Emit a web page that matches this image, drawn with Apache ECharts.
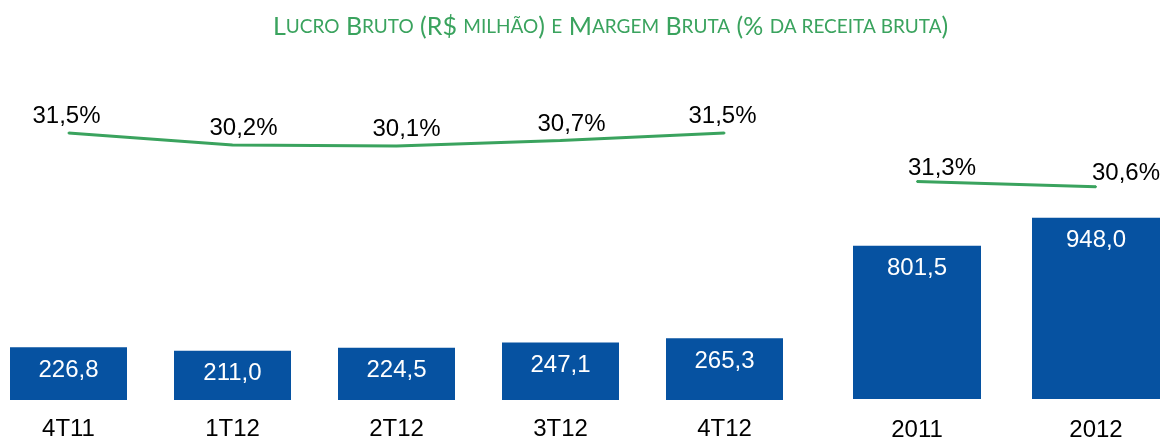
<!DOCTYPE html>
<html lang="pt">
<head>
    <meta charset="UTF-8">
    <title>Lucro Bruto</title>
    <script type="text/javascript" src="https://cdn.jsdelivr.net/npm/echarts@6/dist/echarts.min.js"></script>
    <style>
        html, body { margin: 0; padding: 0; background: #fff; }
        #chart { width: 1163px; height: 442px; }
    </style>
</head>
<body>
<div id="chart"></div>
<script>
    // dados trimestrais
    var quarters = ['4T11', '1T12', '2T12', '3T12', '4T12'];
    var quarterProfit = [226.8, 211.0, 224.5, 247.1, 265.3];
    var quarterMargin = [31.5, 30.2, 30.1, 30.7, 31.5];
    // dados anuais
    var years = ['2011', '2012'];
    var yearProfit = [801.5, 948.0];
    var yearMargin = [31.3, 30.6];

    var blue = '#0652a1';
    var green = '#3aa35e';
    var numFont = '"Liberation Sans", Arial, sans-serif';

    function fmt(v) { return v.toFixed(1).replace('.', ','); }

    // deslocamento horizontal dos rótulos da margem (como no original)
    var qShift = [-2, 11, 10, 11, -2];
    var yShift = [25, 30];

    var myChart = echarts.init(document.getElementById('chart'));

    var option = {
        backgroundColor: '#fff',
        animation: false,
        title: {
            left: 268,
            top: 9,
            text: '{a|L}{b|UCRO} {a|B}{b|RUTO} ({a|R$} {b|MILHÃO}) {b|E} {a|M}{b|ARGEM} {a|B}{b|RUTA} ({a|%} {b|DA RECEITA BRUTA})',
            textStyle: {
                color: green,
                fontFamily: 'Lato',
                fontSize: 25,
                fontWeight: 'normal',
                rich: {
                    a: { color: green, fontFamily: 'Lato', fontSize: 25 },
                    b: { color: green, fontFamily: 'Lato', fontSize: 19 }
                }
            }
        },
        // boundaryGap false: as categorias ficam nos extremos da grade
        grid: [
            { left: 68.5, width: 656, top: 60, bottom: 42 },
            { left: 917, width: 179, top: 60, bottom: 41 }
        ],
        xAxis: [
            {
                gridIndex: 0, type: 'category', data: quarters, boundaryGap: false,
                axisLine: { show: false }, axisTick: { show: false },
                axisLabel: { color: '#000', fontSize: 24, fontFamily: numFont, margin: 17 }
            },
            {
                gridIndex: 1, type: 'category', data: years, boundaryGap: false,
                axisLine: { show: false }, axisTick: { show: false },
                axisLabel: { color: '#000', fontSize: 24, fontFamily: numFont, margin: 19 }
            }
        ],
        yAxis: [
            { gridIndex: 0, type: 'value', min: 0, max: 1460, show: false },
            { gridIndex: 0, type: 'value', min: 2.79, max: 39.35, show: false },
            { gridIndex: 1, type: 'value', min: 0, max: 1772, show: false },
            { gridIndex: 1, type: 'value', min: 2.83, max: 47.18, show: false }
        ],
        series: [
            {
                name: 'Lucro Bruto trimestral', type: 'bar',
                xAxisIndex: 0, yAxisIndex: 0,
                data: quarterProfit, barWidth: 117,
                itemStyle: { color: blue },
                label: {
                    show: true, position: 'insideTop', distance: 11,
                    color: '#fff', fontSize: 24, fontFamily: numFont,
                    formatter: function (p) { return fmt(p.value); }
                }
            },
            {
                name: 'Lucro Bruto anual', type: 'bar',
                xAxisIndex: 1, yAxisIndex: 2,
                data: yearProfit, barWidth: 128,
                itemStyle: { color: blue },
                label: {
                    show: true, position: 'insideTop', distance: 11,
                    color: '#fff', fontSize: 24, fontFamily: numFont,
                    formatter: function (p) { return fmt(p.value); }
                }
            },
            {
                name: 'Margem Bruta trimestral', type: 'line',
                xAxisIndex: 0, yAxisIndex: 1,
                data: quarterMargin.map(function (v, i) {
                    return { value: v, label: { offset: [qShift[i], 0] } };
                }),
                symbol: 'circle', symbolSize: 2,
                itemStyle: { color: green },
                lineStyle: { color: green, width: 3 },
                label: {
                    show: true, position: 'top', distance: 3.5,
                    color: '#000', fontSize: 24, fontFamily: numFont,
                    formatter: function (p) { return fmt(p.value) + '%'; }
                }
            },
            {
                name: 'Margem Bruta anual', type: 'line',
                xAxisIndex: 1, yAxisIndex: 3,
                data: yearMargin.map(function (v, i) {
                    return { value: v, label: { offset: [yShift[i], 0] } };
                }),
                symbol: 'circle', symbolSize: 2,
                itemStyle: { color: green },
                lineStyle: { color: green, width: 3 },
                label: {
                    show: true, position: 'top', distance: 0.5,
                    color: '#000', fontSize: 24, fontFamily: numFont,
                    formatter: function (p) { return fmt(p.value) + '%'; }
                }
            }
        ]
    };
    myChart.setOption(option);
</script>
</body>
</html>
